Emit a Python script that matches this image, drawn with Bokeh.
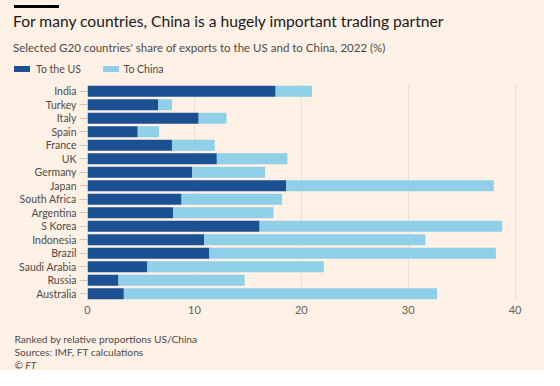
from bokeh.plotting import figure
from bokeh.models import FactorRange, Range1d, FixedTicker, Div
from bokeh.layouts import column
from bokeh.embed import file_html
from bokeh.resources import INLINE

countries = ["India", "Turkey", "Italy", "Spain", "France", "UK", "Germany", "Japan",
             "South Africa", "Argentina", "S Korea", "Indonesia", "Brazil",
             "Saudi Arabia", "Russia", "Australia"]
to_us = [17.6, 6.6, 10.4, 4.7, 7.9, 12.1, 9.8, 18.6, 8.8, 8.0, 16.1, 10.9, 11.4, 5.6, 2.9, 3.4]
to_china = [3.4, 1.3, 2.6, 2.0, 4.0, 6.6, 6.8, 19.4, 9.4, 9.4, 22.7, 20.7, 26.8, 16.5, 11.8, 29.3]
x_ticks = [0, 10, 20, 30, 40]
series_labels = ["To the US", "To China"]

title = "For many countries, China is a hugely important trading partner"
subtitle = "Selected G20 countries' share of exports to the US and to China, 2022 (%)"
notes = ["Ranked by relative proportions US/China", "Sources: IMF, FT calculations", "\u00a9 FT"]

BG = "#FFF1E5"
DARK = "#1B5192"
LIGHT = "#8FCFE7"
FONT = "Lato"
GREY = "#4E4A47"

src = dict(country=countries, us=to_us, china=to_china)

p = figure(width=544, height=236, output_backend="svg", toolbar_location=None,
           y_range=FactorRange(factors=countries[::-1]), x_range=Range1d(0, 42),
           min_border_left=87, min_border_right=8, min_border_top=0, min_border_bottom=20,
           margin=0)
p.background_fill_color = BG
p.border_fill_color = BG
p.outline_line_color = None

rs = p.hbar_stack(["us", "china"], y="country", height=0.8, color=[DARK, LIGHT],
                  line_color=None, source=src)

p.xaxis.ticker = FixedTicker(ticks=x_ticks)
p.xaxis.axis_line_color = None
p.xaxis.major_tick_line_color = None
p.xaxis.minor_tick_line_color = None
p.xaxis.major_tick_out = 0
p.xaxis.major_label_standoff = 5
p.xaxis.major_label_text_font = FONT
p.xaxis.major_label_text_font_size = "11px"
p.xaxis.major_label_text_color = "#66605C"

p.yaxis.axis_line_color = None
p.yaxis.major_tick_in = 0
p.yaxis.major_tick_out = 8
p.yaxis.major_tick_line_color = "#CEC6BE"
p.yaxis.major_label_standoff = 3
p.yaxis.major_label_text_font = FONT
p.yaxis.major_label_text_font_size = "10.5px"
p.yaxis.major_label_text_color = GREY

p.xgrid.ticker = FixedTicker(ticks=x_ticks)
p.xgrid.grid_line_color = "#EFDFD1"
p.ygrid.grid_line_color = None


def abs_text(left, top, text, size, color, style="normal"):
    return (f'<div style="position:absolute;left:{left}px;top:{top}px;white-space:nowrap;'
            f'font-family:{FONT};font-size:{size}px;line-height:1.2;color:{color};'
            f'font-style:{style};margin:0;padding:0">{text}</div>')


def swatch(left, top, color):
    return (f'<div style="position:absolute;left:{left}px;top:{top}px;width:16px;height:6px;'
            f'background:{color}"></div>')


header_html = (
    f'<div style="position:relative;width:544px;height:84px;background:{BG};margin:0;padding:0">'
    f'<div style="position:absolute;left:14px;top:5px;width:45px;height:3px;background:#000"></div>'
    + abs_text(13, 12, title, 15.6, "#1A1817")
    + abs_text(13, 40.5, subtitle, 11.5, GREY)
    + swatch(14, 66.3, DARK) + abs_text(36, 62.5, series_labels[0], 10.5, GREY)
    + swatch(103, 66.3, LIGHT) + abs_text(123.5, 62.5, series_labels[1], 10.5, GREY)
    + '</div>'
)
header = Div(text=header_html, width=544, height=84, margin=0,
             styles={"background-color": BG, "margin": "0", "padding": "0"})

footer_html = f'<div style="position:relative;width:544px;height:50px;background:{BG};margin:0;padding:0">'
for i, t in enumerate(notes):
    footer_html += abs_text(14.5, 12.6 + 13 * i, t, 10.2, GREY, "italic" if i == 2 else "normal")
footer_html += '</div>'
footer = Div(text=footer_html, width=544, height=50, margin=0,
             styles={"background-color": BG, "margin": "0", "padding": "0"})

layout = column(header, p, footer, spacing=0, margin=0, styles={"background-color": BG})

open("out.html", "w").write(file_html(layout, INLINE))
